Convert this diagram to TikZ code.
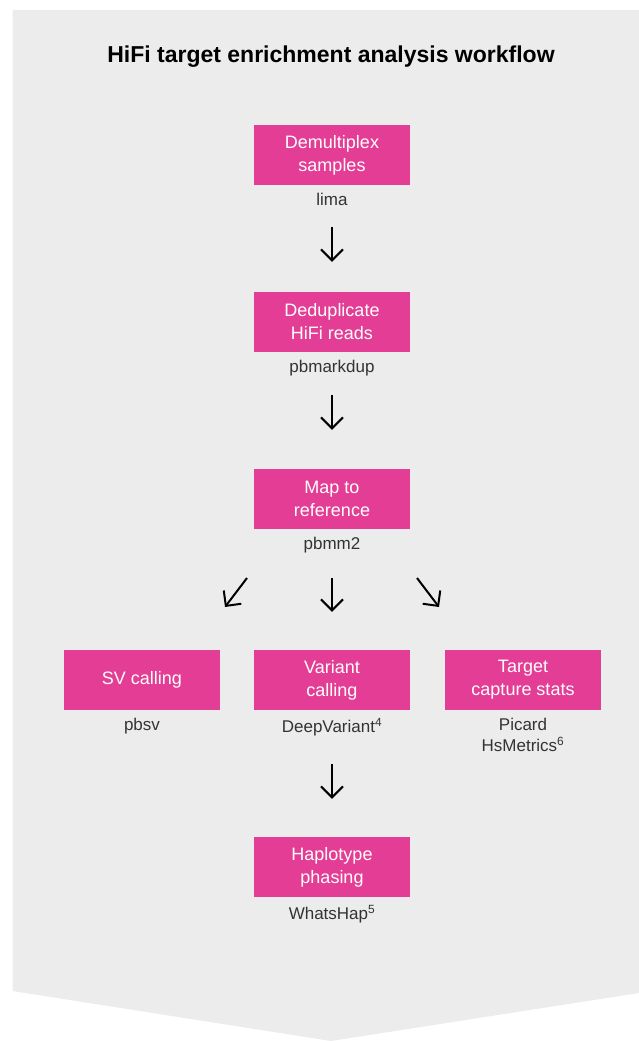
\documentclass[tikz,border=0pt]{standalone}
\usepackage{fontspec}
\setmainfont{Liberation Sans}
\usetikzlibrary{positioning,arrows.meta}
\definecolor{pbpink}{HTML}{E43D95}
\definecolor{pbgray}{HTML}{ECECEC}
\definecolor{pbtext}{HTML}{333333}
\begin{document}
\begin{tikzpicture}[x=1pt,y=-1pt,
  stepbox/.style={fill=pbpink,text=white,minimum width=156pt,minimum height=60pt,inner sep=0pt,align=center,font=\fontsize{18}{23}\selectfont},
  tool/.style={text=pbtext,inner sep=0pt,align=center,font=\fontsize{17}{21}\selectfont},
  arr/.style={-{Straight Barb[length=11pt,width=22pt]},line width=2pt}]
\useasboundingbox (0,0) rectangle (639,1041);
\fill[pbgray] (12.5,10) -- (639,10) -- (639,993) -- (331,1041) -- (12.5,991) -- cycle;
\node[anchor=base,font=\bfseries\fontsize{23}{28}\selectfont] (title) at (331,63) {HiFi target enrichment analysis workflow};
% main column
\node[stepbox] (dmx) at (332,155) {Demultiplex\\samples};
\node[tool,below=8pt of dmx] (lima) {lima};
\node[stepbox] (ddp) at (332,322) {Deduplicate\\HiFi reads};
\node[tool,below=8pt of ddp] (pbmarkdup) {pbmarkdup};
\node[stepbox] (map) at (332,499) {Map to\\reference};
\node[tool,below=8pt of map] (pbmm2) {pbmm2};
% three branches
\node[stepbox] (svc) at (142,680) {SV calling};
\node[tool,below=8pt of svc] (pbsv) {pbsv};
\node[stepbox] (vcl) at (332,680) {Variant\\calling};
\node[tool,below=8pt of vcl] (deepvar) {DeepVariant\textsuperscript{4}};
\node[stepbox] (tcs) at (523,680) {Target\\capture stats};
\node[tool,below=8pt of tcs] (picard) {Picard\\HsMetrics\textsuperscript{6}};
\node[stepbox] (hap) at (332,867) {Haplotype\\phasing};
\node[tool,below=8pt of hap] (whatshap) {WhatsHap\textsuperscript{5}};
% arrows
\draw[arr,shorten <=42pt,shorten >=30pt] (dmx.south) -- (ddp.north);
\draw[arr,shorten <=43pt,shorten >=39pt] (ddp.south) -- (map.north);
\draw[arr,shorten <=49pt,shorten >=38pt] (map.south) -- (vcl.north);
\draw[arr,shorten <=54pt,shorten >=38pt] (vcl.south) -- (hap.north);
\coordinate (svin) at (247,578);
\coordinate (svout) at (225,607);
\coordinate (tcin) at (417,578);
\coordinate (tcout) at (439,607);
\draw[arr] (svin) -- (svout);
\draw[arr] (tcin) -- (tcout);
\end{tikzpicture}
\end{document}
